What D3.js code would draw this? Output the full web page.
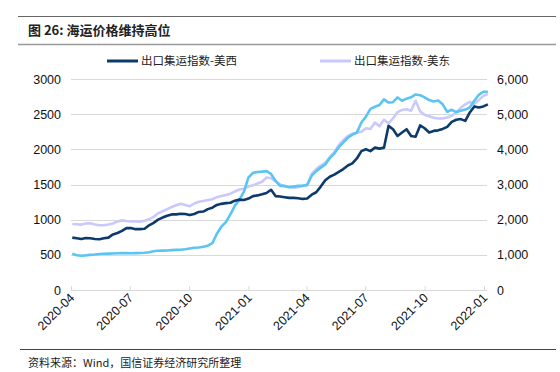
<!DOCTYPE html>
<html>
<head>
<meta charset="utf-8">
<script src="https://cdn.jsdelivr.net/npm/d3@7/dist/d3.min.js"></script>
<style>
  body { margin: 0; background: #fff; }
  svg text { font-family: "Liberation Sans", Arial, sans-serif; }
  .cjk { font-family: "Noto Sans CJK SC", sans-serif; }
</style>
</head>
<body>
<script>
// weekly dates (Fridays) 2020-04-03 .. 2022-01-07
var startDate = "2020-04-03";
var weekCount = 93;

// 出口集运指数-美西 (left axis)
var usWest = [745,735,725,740,735,725,722,735,745,790,810,840,880,880,865,865,870,920,955,1000,
  1030,1055,1075,1075,1085,1080,1065,1080,1110,1115,1150,1170,1210,1225,1235,1240,1270,1285,1280,1300,
  1335,1345,1360,1380,1425,1335,1330,1320,1310,1310,1305,1295,1300,1355,1390,1470,1560,1610,1640,1680,
  1720,1770,1800,1870,1975,2000,1975,2024,2010,2024,2333,2286,2190,2240,2286,2190,2180,2340,2300,2240,
  2262,2270,2290,2320,2390,2420,2430,2405,2524,2610,2595,2610,2640];

// 出口集运指数-美东 (left axis)
var usEast = [938,935,930,945,950,930,920,920,930,945,975,990,980,976,976,970,985,1005,1040,1090,
  1120,1150,1180,1205,1225,1210,1190,1230,1255,1265,1280,1290,1320,1335,1350,1370,1400,1429,1440,1470,
  1490,1515,1540,1600,1590,1545,1500,1476,1467,1455,1460,1480,1490,1650,1720,1770,1810,1890,1960,2060,
  2130,2190,2220,2235,2250,2300,2290,2380,2330,2420,2370,2440,2530,2560,2570,2550,2690,2540,2490,2470,
  2450,2438,2440,2452,2480,2524,2590,2640,2676,2643,2700,2760,2786];

// composite index (right axis)
var composite = [1028,990,975,985,1000,1010,1025,1030,1035,1040,1045,1048,1048,1045,1048,1050,1060,1075,1100,1114,
  1120,1125,1135,1140,1145,1160,1180,1200,1210,1230,1260,1330,1600,1800,1930,2150,2400,2570,2800,3200,
  3330,3355,3365,3381,3300,3100,2960,2960,2920,2940,2960,2965,2990,3250,3380,3480,3571,3750,3880,4060,
  4200,4330,4420,4476,4762,4930,5150,5210,5260,5420,5330,5340,5476,5381,5440,5480,5560,5540,5476,5400,
  5360,5390,5280,5067,5124,5060,5100,5130,5190,5381,5550,5638,5638];

var xTickLabels = ["2020-04","2020-07","2020-10","2021-01","2021-04","2021-07","2021-10","2022-01"];
var leftTicks = [0,500,1000,1500,2000,2500,3000];
var rightTicks = [0,1000,2000,3000,4000,5000,6000];
var legendNames = ["出口集运指数-美西", "出口集运指数-美东"];

var width = 560, height = 372;
var svg = d3.select("body").append("svg").attr("width", width).attr("height", height);

var parse = d3.timeParse("%Y-%m-%d");
var dates = d3.timeDay.range(parse(startDate), d3.timeDay.offset(parse(startDate), weekCount * 7), 7);

var x = d3.scaleTime()
  .domain([parse("2020-04-01"), parse("2022-01-01")])
  .range([71, 484]);
var yL = d3.scaleLinear().domain([0, 3000]).range([290, 79]);
var yR = d3.scaleLinear().domain([0, 6000]).range([290, 79]);

//header lines and title
svg.append("line").attr("x1", 18).attr("x2", 556).attr("y1", 16.5).attr("y2", 16.5)
  .attr("stroke", "#666").attr("stroke-width", 1);
svg.append("text").attr("class", "cjk").attr("x", 28).attr("y", 35)
  .attr("font-size", 13).attr("font-weight", "bold").attr("fill", "#222")
  .text("图 26:  海运价格维持高位");
svg.append("line").attr("x1", 18).attr("x2", 556).attr("y1", 44.5).attr("y2", 44.5)
  .attr("stroke", "#999").attr("stroke-width", 1.5);

//gridlines
svg.append("g").selectAll("line").data(leftTicks.slice(1)).enter().append("line")
  .attr("x1", 71).attr("x2", 487)
  .attr("y1", function(d) { return Math.round(yL(d)) + 0.5; })
  .attr("y2", function(d) { return Math.round(yL(d)) + 0.5; })
  .attr("stroke", "#d9d9d9").attr("stroke-width", 1.2);

//bottom axis
var xAxis = svg.append("g").attr("transform", "translate(0,290)")
  .call(d3.axisBottom(x)
    .tickValues(xTickLabels.map(function(s) { return parse(s + "-01"); }))
    .tickFormat(d3.timeFormat("%Y-%m"))
    .tickSizeInner(-4).tickSizeOuter(0));
xAxis.select(".domain").attr("stroke", "#d9d9d9").attr("stroke-width", 1.2).attr("d", "M71,0.5H487");
xAxis.selectAll(".tick line").attr("stroke", "#d9d9d9");
xAxis.selectAll(".tick text")
  .attr("font-size", 12.5).attr("fill", "#111")
  .attr("text-anchor", "end")
  .attr("transform", "translate(2,4) rotate(-45)")
  .attr("dy", "0.35em").attr("y", 0).attr("x", -2);

//left axis
var lAxis = svg.append("g").attr("transform", "translate(61,0)")
  .call(d3.axisLeft(yL).tickValues(leftTicks).tickFormat(d3.format("d")).tickSize(0));
lAxis.select(".domain").remove();
lAxis.selectAll("text").attr("font-size", 12.5).attr("fill", "#111").attr("x", 0);

//right axis
var rAxis = svg.append("g").attr("transform", "translate(497,0)")
  .call(d3.axisRight(yR).tickValues(rightTicks).tickFormat(d3.format(",")).tickSize(0));
rAxis.select(".domain").remove();
rAxis.selectAll("text").attr("font-size", 12.5).attr("fill", "#111").attr("x", 0);

//lines
var lineL = d3.line().x(function(d, i) { return x(dates[i]); }).y(function(d) { return yL(d); });
var lineR = d3.line().x(function(d, i) { return x(dates[i]); }).y(function(d) { return yR(d); });

svg.append("path").datum(usEast).attr("d", lineL)
  .attr("fill", "none").attr("stroke", "#c9c9fb").attr("stroke-width", 2.6).attr("stroke-linejoin", "round");
svg.append("path").datum(composite).attr("d", lineR)
  .attr("fill", "none").attr("stroke", "#5bc4f3").attr("stroke-width", 2.6).attr("stroke-linejoin", "round");
svg.append("path").datum(usWest).attr("d", lineL)
  .attr("fill", "none").attr("stroke", "#0c3a6b").attr("stroke-width", 2.6).attr("stroke-linejoin", "round");

//legend
var legendColors = ["#0c3a6b", "#c9c9fb"];
var legendX = [107, 320];
var legend = svg.append("g").selectAll("g").data(legendNames).enter().append("g")
  .attr("transform", function(d, i) { return "translate(" + legendX[i] + ",61)"; });
legend.append("line").attr("x1", 0).attr("x2", 31).attr("y1", 0).attr("y2", 0)
  .attr("stroke", function(d, i) { return legendColors[i]; }).attr("stroke-width", 3);
legend.append("text").attr("class", "cjk").attr("x", 34).attr("y", 4)
  .attr("font-size", 11.5).attr("fill", "#222").text(function(d) { return d; });

//source
svg.append("line").attr("x1", 20).attr("x2", 556).attr("y1", 349.5).attr("y2", 349.5)
  .attr("stroke", "#444").attr("stroke-width", 1);
svg.append("text").attr("class", "cjk").attr("x", 28).attr("y", 367)
  .attr("font-size", 11).attr("fill", "#222").text("资料来源：Wind，国信证券经济研究所整理");
</script>
</body>
</html>
